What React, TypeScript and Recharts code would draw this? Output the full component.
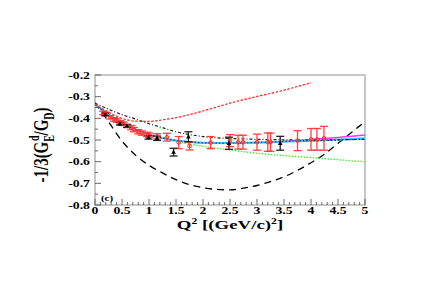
import React from "react";
import {
  ComposedChart,
  Line,
  Scatter,
  ErrorBar,
  XAxis,
  YAxis,
  ReferenceArea,
} from "recharts";

// model curves, sampled on a common Q^2 grid
const qGrid = [0, 0.25, 0.5, 0.75, 1, 1.25, 1.5, 1.75, 2, 2.25, 2.5, 2.75, 3, 3.25, 3.5, 3.75, 4, 4.25, 4.5, 4.75, 5];
const blackDashed = [-0.33, -0.415, -0.505, -0.57, -0.617, -0.652, -0.683, -0.706, -0.72, -0.728, -0.73, -0.722, -0.71, -0.692, -0.67, -0.64, -0.605, -0.565, -0.515, -0.465, -0.415];
const blackDashDot = [-0.33, -0.358, -0.383, -0.403, -0.425, -0.443, -0.462, -0.475, -0.484, -0.49, -0.493, -0.495, -0.497, -0.498, -0.499, -0.5, -0.5, -0.5, -0.499, -0.498, -0.497];
const greenDotted = [-0.335, -0.385, -0.423, -0.455, -0.478, -0.493, -0.507, -0.519, -0.529, -0.538, -0.546, -0.554, -0.561, -0.567, -0.572, -0.577, -0.581, -0.586, -0.591, -0.596, -0.6];
const cyanSolid = [-0.335, -0.383, -0.421, -0.452, -0.475, -0.491, -0.502, -0.509, -0.513, -0.514, -0.514, -0.513, -0.512, -0.51, -0.508, -0.506, -0.504, -0.501, -0.498, -0.495, -0.492];
const magentaSolid = [-0.335, -0.383, -0.421, -0.452, -0.475, -0.491, -0.502, -0.509, -0.513, -0.514, -0.514, -0.513, -0.512, -0.51, -0.506, -0.502, -0.498, -0.493, -0.488, -0.483, -0.477];
const blueDotted = [-0.335, -0.383, -0.421, -0.452, -0.475, -0.491, -0.502, -0.509, -0.513, -0.514, -0.514, -0.513, -0.512, -0.51, -0.507, -0.505, -0.503, -0.502, -0.5, -0.498, -0.497];

const redQ = [0, 0.25, 0.5, 0.75, 1, 1.25, 1.5, 1.75, 2, 2.25, 2.5, 2.75, 3, 3.25, 3.5, 3.75, 4];
const redDashed = [-0.335, -0.372, -0.4, -0.413, -0.414, -0.407, -0.397, -0.383, -0.366, -0.348, -0.33, -0.314, -0.299, -0.285, -0.27, -0.253, -0.236];

// measurements
const redPtsQ = [0.15, 0.2, 0.28, 0.35, 0.4, 0.47, 0.53, 0.6, 0.67, 0.72, 0.8, 0.87, 0.96, 1.0, 1.15, 1.33, 1.55, 1.75, 2.14, 2.5, 2.65, 2.74, 3.0, 3.2, 3.25, 3.75, 4.0, 4.11, 4.24];
const redPtsV = [-0.375, -0.38, -0.395, -0.405, -0.41, -0.418, -0.425, -0.435, -0.443, -0.452, -0.462, -0.468, -0.474, -0.478, -0.483, -0.487, -0.512, -0.528, -0.512, -0.503, -0.51, -0.51, -0.51, -0.51, -0.51, -0.503, -0.497, -0.497, -0.492];
const redPtsE = [0.008, 0.008, 0.008, 0.008, 0.008, 0.008, 0.008, 0.008, 0.01, 0.01, 0.01, 0.01, 0.01, 0.01, 0.012, 0.018, 0.028, 0.018, 0.028, 0.028, 0.032, 0.032, 0.037, 0.042, 0.042, 0.046, 0.05, 0.05, 0.055];

const blackPtsQ = [0.19, 0.46, 0.59, 0.99, 1.15, 1.455, 1.73, 2.48, 3.43];
const blackPtsV = [-0.382, -0.425, -0.435, -0.488, -0.492, -0.556, -0.485, -0.515, -0.515];
const blackPtsE = [0.006, 0.006, 0.006, 0.008, 0.01, 0.018, 0.023, 0.028, 0.032];

const xMajor = [0, 0.5, 1, 1.5, 2, 2.5, 3, 3.5, 4, 4.5, 5];
const xLabels = ["0", "0.5", "1", "1.5", "2", "2.5", "3", "3.5", "4", "4.5", "5"];
const yMajor = [-0.2, -0.3, -0.4, -0.5, -0.6, -0.7, -0.8];
const yLabels = ["-0.2", "-0.3", "-0.4", "-0.5", "-0.6", "-0.7", "-0.8"];

const xTicks = Array.from({ length: 51 }, (_, i) => +(i * 0.1).toFixed(2));
const yTicks = Array.from({ length: 13 }, (_, i) => +(-0.2 - i * 0.05).toFixed(3));

const toRows = (qs: number[], vs: number[]) => qs.map((q, i) => ({ q, v: vs[i] }));
const toPts = (qs: number[], vs: number[], es: number[]) => qs.map((q, i) => ({ q, v: vs[i], e: es[i] }));

const FONT = "'Liberation Serif', 'Times New Roman', serif";
const STRETCH = 1.45;

function XTick(props: any) {
  const { x, y, payload } = props;
  const i = xMajor.findIndex((m) => Math.abs(m - payload.value) < 1e-6);
  const major = i >= 0;
  return (
    <g>
      <line x1={x} x2={x} y1={y} y2={y - (major ? 6 : 3)} stroke="#444" strokeWidth={0.8} />
      {major && (
        <text
          transform={`translate(${x},${y + 9}) scale(${STRETCH},1)`}
          textAnchor="middle"
          fontSize={9.5}
          fontWeight="bold"
          fontFamily={FONT}
          fill="#000"
        >
          {xLabels[i]}
        </text>
      )}
    </g>
  );
}

function YTick(props: any) {
  const { x, y, payload } = props;
  const i = yMajor.findIndex((m) => Math.abs(m - payload.value) < 1e-6);
  const major = i >= 0;
  return (
    <g>
      <line x1={x} x2={x + (major ? 6 : 3)} y1={y} y2={y} stroke="#444" strokeWidth={0.8} />
      {major && (
        <text
          transform={`translate(${x - 5},${y + 3.5}) scale(${STRETCH},1)`}
          textAnchor="end"
          fontSize={9.5}
          fontWeight="bold"
          fontFamily={FONT}
          fill="#000"
        >
          {yLabels[i]}
        </text>
      )}
    </g>
  );
}

function YLabel(props: any) {
  const vb = props.viewBox;
  const cx = vb.x - 12;
  const cy = vb.y + vb.height / 2 + 5;
  return (
    <text
      transform={`translate(${cx},${cy}) scale(${STRETCH},1) rotate(-90)`}
      textAnchor="middle"
      fontSize={15}
      fontWeight="bold"
      fontFamily={FONT}
      fill="#000"
    >
      -1/3(G
      <tspan dy={4} fontSize={10}>E</tspan>
      <tspan dx={-6} dy={-10} fontSize={10}>d</tspan>
      <tspan dy={6}>/G</tspan>
      <tspan dy={4} fontSize={10}>D</tspan>
      <tspan dy={-4}>)</tspan>
    </text>
  );
}

function XLabel(props: any) {
  const vb = props.viewBox;
  return (
    <text
      transform={`translate(${vb.x + vb.width / 2},${vb.y + 24}) scale(${STRETCH},1)`}
      textAnchor="middle"
      fontSize={13}
      fontWeight="bold"
      fontFamily={FONT}
      fill="#000"
    >
      Q<tspan dy={-5} fontSize={8}>2</tspan>
      <tspan dy={5}> [(GeV/c)</tspan>
      <tspan dy={-5} fontSize={8}>2</tspan>
      <tspan dy={5}>]</tspan>
    </text>
  );
}

function PanelTag(props: any) {
  const vb = props.viewBox;
  return (
    <text
      transform={`translate(${vb.x + 6},${vb.y + vb.height - 4}) scale(${STRETCH},1)`}
      fontSize={7.5}
      fontWeight="bold"
      fontFamily={FONT}
      fill="#000"
    >
      (c)
    </text>
  );
}

const redDot = (p: any) => <circle cx={p.cx} cy={p.cy} r={1.8} fill="none" stroke="#ff3030" strokeWidth={1} />;
const blackTri = (p: any) => (
  <path d={`M${p.cx},${p.cy - 2.5} L${p.cx + 2.3},${p.cy + 1.7} L${p.cx - 2.3},${p.cy + 1.7} Z`} fill="#000" />
);

export default function App() {
  return (
    <div style={{ position: "absolute", left: 0, top: 0, width: 431, height: 300, background: "#fff" }}>
      <ComposedChart width={431} height={300} margin={{ top: 75, right: 66, bottom: 65, left: 60 }}>
        <XAxis
          type="number"
          dataKey="q"
          domain={[0, 5]}
          ticks={xTicks}
          interval={0}
          tickSize={0}
          tickMargin={0}
          axisLine={false}
          tick={<XTick />}
          height={30}
          allowDataOverflow
          label={{ content: <XLabel /> }}
        />
        <YAxis
          type="number"
          dataKey="v"
          domain={[-0.8, -0.2]}
          ticks={yTicks}
          interval={0}
          tickSize={0}
          tickMargin={0}
          axisLine={false}
          tick={<YTick />}
          width={35}
          allowDataOverflow
          label={{ content: <YLabel /> }}
        />
        <ReferenceArea
          x1={0}
          x2={5}
          y1={-0.8}
          y2={-0.2}
          fill="none"
          stroke="#b4b4b4"
          strokeWidth={1.5}
          label={{ content: <PanelTag /> }}
        />
        <Line data={toRows(qGrid, blackDashed)} dataKey="v" type="monotone" stroke="#000" strokeWidth={1.3} strokeDasharray="7 5" dot={false} isAnimationActive={false} />
        <Line data={toRows(qGrid, greenDotted)} dataKey="v" type="monotone" stroke="#33ee33" strokeWidth={1.3} strokeDasharray="1.5 1.5" dot={false} isAnimationActive={false} />
        <Line data={toRows(qGrid, magentaSolid)} dataKey="v" type="monotone" stroke="#ff33ff" strokeWidth={1.5} dot={false} isAnimationActive={false} />
        <Line data={toRows(qGrid, cyanSolid)} dataKey="v" type="monotone" stroke="#33ccff" strokeWidth={2} dot={false} isAnimationActive={false} />
        <Line data={toRows(qGrid, blueDotted)} dataKey="v" type="monotone" stroke="#1a3a80" strokeWidth={1.2} strokeDasharray="1.5 2" dot={false} isAnimationActive={false} />
        <Line data={toRows(qGrid, blackDashDot)} dataKey="v" type="monotone" stroke="#222" strokeWidth={1.2} strokeDasharray="3 2 1 2" dot={false} isAnimationActive={false} />
        <Line data={toRows(redQ, redDashed)} dataKey="v" type="monotone" stroke="#ff2020" strokeWidth={1.2} strokeDasharray="2.5 1.5" dot={false} isAnimationActive={false} />
        <Scatter data={toPts(redPtsQ, redPtsV, redPtsE)} dataKey="v" shape={redDot} isAnimationActive={false}>
          <ErrorBar dataKey="e" direction="y" width={4} stroke="#ff4040" strokeWidth={1.3} isAnimationActive={false} />
        </Scatter>
        <Scatter data={toPts(blackPtsQ, blackPtsV, blackPtsE)} dataKey="v" shape={blackTri} isAnimationActive={false}>
          <ErrorBar dataKey="e" direction="y" width={4} stroke="#222" strokeWidth={1.3} isAnimationActive={false} />
        </Scatter>
      </ComposedChart>
    </div>
  );
}
